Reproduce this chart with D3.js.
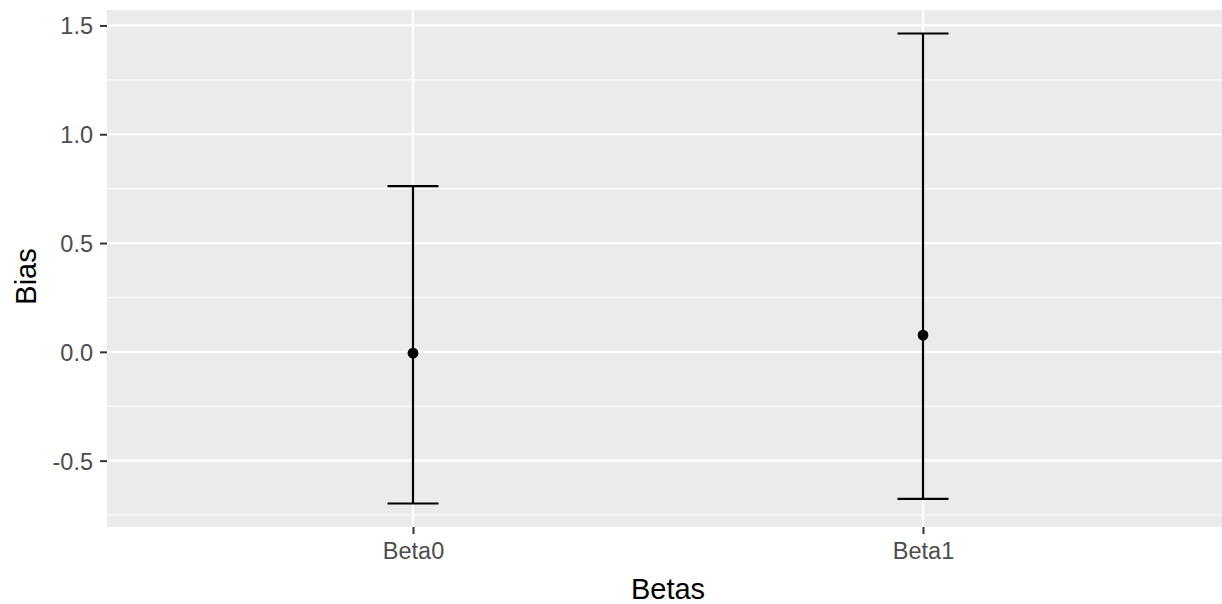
<!DOCTYPE html>
<html>
<head>
<meta charset="utf-8">
<script src="https://cdn.jsdelivr.net/npm/d3@7"></script>
<style>
  html, body { margin: 0; padding: 0; background: #ffffff; }
  svg { display: block; }
</style>
</head>
<body>
<div id="chart"></div>
<script>
  // Values
  const categories = ["Beta0", "Beta1"];
  const means = [-0.006, 0.077];
  const lower = [-0.697, -0.676];
  const upper = [0.762, 1.463];
  const yTicks = [-0.5, 0.0, 0.5, 1.0, 1.5];
  const yMinor = [-0.75, -0.25, 0.25, 0.75, 1.25];

  const W = 1222, H = 604;
  const FONT = "'Liberation Sans', Arial, sans-serif";

  // panel box (right edge runs past the window, as in the reference crop)
  const panel = { left: 107, right: 1229, top: 10, bottom: 527 };

  const svg = d3.select("#chart").append("svg")
    .attr("width", W).attr("height", H);

  const lo = d3.min(lower), hi = d3.max(upper);
  const pad = (hi - lo) * 0.05;

  const x = d3.scalePoint()
    .domain(categories)
    .range([panel.left, panel.right])
    .padding(0.6);

  const y = d3.scaleLinear()
    .domain([lo - pad, hi + pad])
    .range([panel.bottom, panel.top]);

  // panel background
  svg.append("rect")
    .attr("x", panel.left).attr("y", panel.top)
    .attr("width", panel.right - panel.left)
    .attr("height", panel.bottom - panel.top)
    .attr("fill", "#EBEBEB");

  // minor grid
  svg.selectAll("line.minor").data(yMinor).enter().append("line")
    .attr("class", "minor")
    .attr("x1", panel.left).attr("x2", panel.right)
    .attr("y1", d => y(d)).attr("y2", d => y(d))
    .attr("stroke", "#ffffff").attr("stroke-width", 1.1);

  // major grid
  svg.selectAll("line.majorY").data(yTicks).enter().append("line")
    .attr("class", "majorY")
    .attr("x1", panel.left).attr("x2", panel.right)
    .attr("y1", d => y(d)).attr("y2", d => y(d))
    .attr("stroke", "#ffffff").attr("stroke-width", 2.2);

  svg.selectAll("line.majorX").data(categories).enter().append("line")
    .attr("class", "majorX")
    .attr("x1", d => x(d)).attr("x2", d => x(d))
    .attr("y1", panel.top).attr("y2", panel.bottom)
    .attr("stroke", "#ffffff").attr("stroke-width", 2.2);

  // y axis ticks + labels (plain hyphen for negatives, like R)
  const fmt = d3.format(".1f");
  const yAxis = svg.append("g")
    .attr("transform", `translate(${panel.left},0)`)
    .call(d3.axisLeft(y).tickValues(yTicks).tickSize(7).tickPadding(7)
      .tickFormat(d => fmt(d).replace("\u2212", "-")));
  yAxis.select(".domain").remove();
  yAxis.selectAll(".tick line").attr("stroke", "#333333").attr("stroke-width", 2);
  yAxis.selectAll(".tick text")
    .attr("fill", "#4D4D4D").attr("font-family", FONT).attr("font-size", "23.5px")
    .attr("dy", "0.36em");

  // x axis ticks + labels
  const xAxis = svg.append("g")
    .attr("transform", `translate(0,${panel.bottom})`)
    .call(d3.axisBottom(x).tickSize(7).tickPadding(8));
  xAxis.select(".domain").remove();
  xAxis.selectAll(".tick line").attr("stroke", "#333333").attr("stroke-width", 2);
  xAxis.selectAll(".tick text")
    .attr("fill", "#4D4D4D").attr("font-family", FONT).attr("font-size", "23.5px");

  // error bars
  const capHalf = x.step() * 0.05;
  const bars = svg.append("g");
  categories.forEach((c, i) => {
    const cx = x(c);
    bars.append("line")
      .attr("x1", cx).attr("x2", cx)
      .attr("y1", y(lower[i])).attr("y2", y(upper[i]))
      .attr("stroke", "#000").attr("stroke-width", 2.2);
    [lower[i], upper[i]].forEach(v => {
      bars.append("line")
        .attr("x1", cx - capHalf).attr("x2", cx + capHalf)
        .attr("y1", y(v)).attr("y2", y(v))
        .attr("stroke", "#000").attr("stroke-width", 2.2);
    });
  });

  // mean points
  svg.selectAll("circle.pt").data(categories).enter().append("circle")
    .attr("class", "pt")
    .attr("cx", d => x(d))
    .attr("cy", (d, i) => y(means[i]))
    .attr("r", 5.4)
    .attr("fill", "#000");

  // axis titles
  svg.append("text")
    .attr("x", (panel.left + panel.right) / 2).attr("y", 599)
    .attr("text-anchor", "middle")
    .attr("font-family", FONT).attr("font-size", "29px").attr("fill", "#000")
    .text("Betas");

  svg.append("text")
    .attr("transform", `translate(36,${(panel.top + panel.bottom) / 2 + 8}) rotate(-90)`)
    .attr("text-anchor", "middle")
    .attr("font-family", FONT).attr("font-size", "29px").attr("fill", "#000")
    .text("Bias");
</script>
</body>
</html>
